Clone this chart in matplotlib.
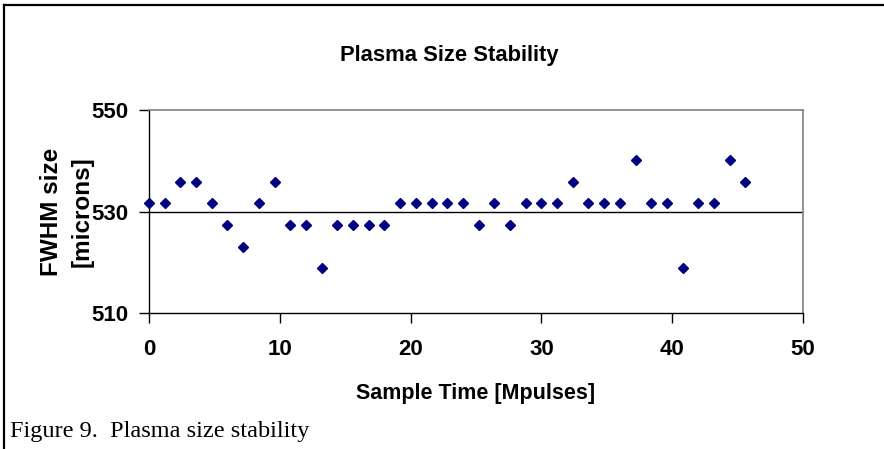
import matplotlib
matplotlib.use("Agg")
import matplotlib.pyplot as plt
from matplotlib.lines import Line2D

# Data
sample_time = [0.0, 1.2, 2.4, 3.6, 4.8, 6.0, 7.2, 8.4, 9.6, 10.8, 12.0, 13.2, 14.4,
               15.6, 16.8, 18.0, 19.2, 20.4, 21.6, 22.8, 24.0, 25.2, 26.4, 27.6,
               28.8, 30.0, 31.2, 32.4, 33.6, 34.8, 36.0, 37.2, 38.4, 39.6, 40.8,
               42.0, 43.2, 44.4, 45.6]
fwhm_size = [531.7, 531.7, 535.9, 535.9, 531.7, 527.3, 523.1, 531.7, 535.9, 527.3,
             527.3, 518.8, 527.3, 527.3, 527.3, 527.3, 531.7, 531.7, 531.7, 531.7,
             531.7, 527.3, 531.7, 527.3, 531.7, 531.7, 531.7, 535.9, 531.7, 531.7,
             531.7, 540.2, 531.7, 531.7, 518.8, 531.7, 531.7, 540.2, 535.9]
x_ticks = [0, 10, 20, 30, 40, 50]
y_ticks = [510, 530, 550]

title = "Plasma Size Stability"
x_label = "Sample Time [Mpulses]"
y_label_1 = "FWHM size"
y_label_2 = "[microns]"
caption = "Figure 9.  Plasma size stability"

W, H = 884, 449
fig = plt.figure(figsize=(W / 100, H / 100), dpi=100)
sans = ['Liberation Sans', 'DejaVu Sans']
serif = ['Liberation Serif', 'DejaVu Serif']

ax = fig.add_axes([149 / W, 1 - 313 / H, (803 - 149) / W, (313 - 110) / H])
ax.set_xlim(0, 50)
ax.set_ylim(510, 550)
ax.set_xticks(x_ticks)
ax.set_yticks(y_ticks)
ax.set_xticklabels([str(v) for v in x_ticks], fontfamily=sans, fontweight='bold', fontsize=16)
ax.set_yticklabels([str(v) for v in y_ticks], fontfamily=sans, fontweight='bold', fontsize=16)
ax.tick_params(axis='both', direction='out', length=7, width=1, color='black')
ax.tick_params(axis='x', pad=12)
ax.tick_params(axis='y', pad=8)
for s in ['left', 'bottom']:
    ax.spines[s].set_color('black')
    ax.spines[s].set_linewidth(1)
for s in ['top', 'right']:
    ax.spines[s].set_color('#808080')
    ax.spines[s].set_linewidth(1.2)
ax.axhline(530, color='black', linewidth=1, zorder=1)

ax.plot(sample_time, fwhm_size, linestyle='none', marker='D', markersize=5.2,
        color='#000080', markeredgecolor='#000080', zorder=3, clip_on=False)

fig.text(449 / W, 1 - 56 / H, title, ha='center', va='center',
         fontfamily=sans, fontweight='bold', fontsize=15.8)
fig.text(476 / W, 1 - 393 / H, x_label, ha='center', va='center',
         fontfamily=sans, fontweight='bold', fontsize=15.5)
fig.text(52 / W, 1 - 212 / H, y_label_1, ha='center', va='center', rotation=90,
         fontfamily=sans, fontweight='bold', fontsize=17.5)
fig.text(82 / W, 1 - 212 / H, y_label_2, ha='center', va='center', rotation=90,
         fontfamily=sans, fontweight='bold', fontsize=17.5)
fig.text(10 / W, 1 - 432 / H, caption, ha='left', va='center',
         fontfamily=serif, fontsize=17.5)

# outer frame (left and top edges of the surrounding box)
fig.add_artist(Line2D([4 / W, 4 / W], [0, 1 - 5 / H], transform=fig.transFigure,
                      color='black', linewidth=1.6))
fig.add_artist(Line2D([4 / W, 1], [1 - 5 / H, 1 - 5 / H], transform=fig.transFigure,
                      color='black', linewidth=1.6))

fig.savefig("out.png", dpi=100)
